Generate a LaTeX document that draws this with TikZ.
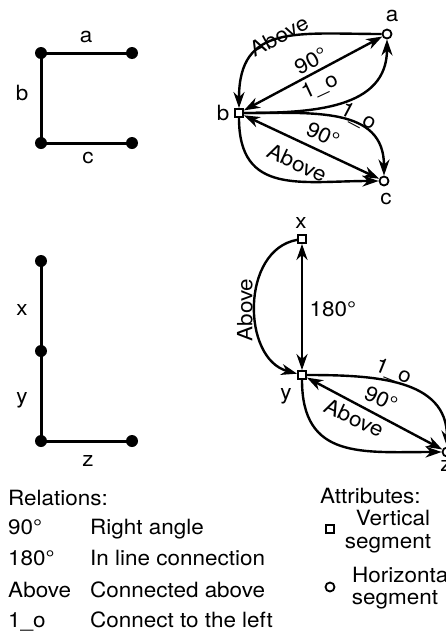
\documentclass[tikz,border=0pt]{standalone}
\usepackage{fontspec}
\setmainfont{TeX Gyre Heros}[FakeStretch=1.07]
\usetikzlibrary{arrows.meta}
\begin{document}
\begin{tikzpicture}[x=1pt,y=-1pt,
  every node/.style={font=\fontsize{21}{25}\selectfont},
  dot/.style={circle,fill=black,inner sep=0pt,minimum size=12pt},
  seg/.style={line width=3pt},
  vsq/.style={rectangle,draw=black,fill=white,line width=1.8pt,minimum size=8pt,inner sep=0pt},
  hci/.style={circle,draw=black,fill=white,line width=1.8pt,minimum size=9pt,inner sep=0pt},
  tip/.tip={Stealth[length=16pt,width=11pt,inset=5pt]},
  rel/.style={line width=2.4pt,-tip},
  rel2/.style={line width=2.4pt,tip-tip},
  leg/.style={anchor=base west,inner sep=0pt}
]
\useasboundingbox (0,0) rectangle (446,632);

% ---- top-left
\node[dot] (p1) at (41,53) {};
\node[dot] (p2) at (132,53) {};
\node[dot] (p3) at (41,143) {};
\node[dot] (p4) at (132,143) {};
\draw[seg] (p2.center) -- (p1.center) -- (p3.center) -- (p4.center);
\node (tla) at (86,37) {a};
\node (tlb) at (22,93) {b};
\node (tlc) at (88,158) {c};

% ---- bottom-left
\node[dot] (q1) at (41,261) {};
\node[dot] (q2) at (41,351) {};
\node[dot] (q3) at (41,441) {};
\node[dot] (q4) at (132,441) {};
\draw[seg] (q1.center) -- (q2.center) -- (q3.center) -- (q4.center);
\node (blx) at (22,310) {x};
\node (bly) at (22,400) {y};
\node (blz) at (88,461) {z};

% ---- top-right graph
\node[vsq] (b) at (239,113) {};
\node[hci] (a) at (387,34) {};
\node[hci] (c) at (384,181) {};
\node (trla) at (392,16) {a};
\node (trlb) at (223,113) {b};
\node (trlc) at (386,199) {c};
\draw[rel] (a) to[out=180,in=90,looseness=1.35] (b);
\draw[rel2] (b) -- (a);
\draw[rel] (b) to[out=0,in=-90,looseness=1.1] (a);
\draw[rel] (b) to[out=0,in=90,looseness=1.15] (c);
\draw[rel2] (b) -- (c);
\draw[rel] (b) to[out=-90,in=180,looseness=1.3] (c);
\node[rotate=28] (t1) at (279,36) {Above};
\node[rotate=28] (t2) at (311,61) {90°};
\node[rotate=25] (t3) at (320,87) {1\_o};
\node[rotate=-28] (t4) at (358,117) {1\_o};
\node[rotate=-25] (t5) at (323,135) {90°};
\node[rotate=-25] (t6) at (297,163) {Above};

% ---- bottom-right graph
\node[vsq] (x) at (302,239) {};
\node[vsq] (y) at (302,375) {};
\node[hci] (z) at (447,452) {};
\node (brlx) at (301,223) {x};
\node (brly) at (286,396) {y};
\node (brlz) at (446,466) {z};
\draw[rel2] (x) -- (y);
\draw[rel] (x) to[out=190,in=165,looseness=1.1] (y);
\draw[rel] (y) to[out=0,in=90,looseness=1.1] (z);
\draw[rel2] (y) -- (z);
\draw[rel] (y) to[out=-90,in=180,looseness=1.3] (z);
\node[rotate=90] (m1) at (245,310) {Above};
\node[anchor=west] (m2) at (306,309) {180°};
\node[rotate=-22] (m3) at (393,372) {1\_o};
\node[rotate=-25] (m4) at (381,399) {90°};
\node[rotate=-25] (m5) at (354,418) {Above};

% ---- legend: relations
\node[leg] (relh) at (8,505) {Relations:};
\node[leg] (r1a) at (8,534) {90°};
\node[leg] (r1b) at (90,534) {Right angle};
\node[leg] (r2a) at (8,565) {180°};
\node[leg] (r2b) at (90,565) {In line connection};
\node[leg] (r3a) at (8,597) {Above};
\node[leg] (r3b) at (90,597) {Connected above};
\node[leg] (r4a) at (8,627) {1\_o};
\node[leg] (r4b) at (90,627) {Connect to the left};

% ---- legend: attributes
\node[leg] (atth) at (320,503) {Attributes:};
\node[vsq] (lsq) at (330,529) {};
\node[hci] (lci) at (330,587) {};
\node[anchor=base,inner sep=0pt] (av1) at (393,525) {Vertical};
\node[anchor=base,inner sep=0pt] (av2) at (388,548) {segment};
\node[leg] (ah1) at (352,582) {Horizontal};
\node[anchor=base,inner sep=0pt] (ah2) at (395,604) {segment};
\end{tikzpicture}
\end{document}
